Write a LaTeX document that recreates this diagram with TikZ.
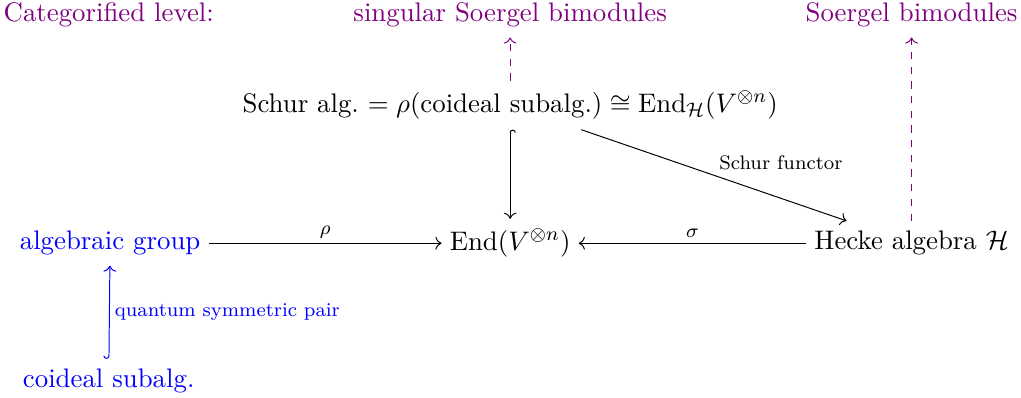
\documentclass[tikz,border=0pt,11pt]{standalone}
\usepackage{amsmath, amssymb}
\usepackage{tikz}
\usetikzlibrary{arrows.meta,positioning,calc}
\usepackage{xcolor}
\definecolor{catViolet}{rgb}{0.5,0,0.5}

\begin{document}
\begin{tikzpicture}[
            >={Computer Modern Rightarrow},
            every node/.style={font=\normalsize},
            obj/.style={inner xsep=3.2pt, inner ysep=4pt},
            classic/.style={obj, text=blue},
            categ/.style={obj, text=catViolet},
            arrow/.style={->, line width=0.4pt},
            hookarrow/.style={{Hooks[right]}->, line width=0.4pt},
            catarrow/.style={->, dashed, line width=0.4pt, draw=catViolet},
            lbl/.style={font=\scriptsize, inner sep=2pt}
        ]
        \useasboundingbox (0,0) rectangle (14.65,-5.71);

        %---------------- Categorified level ----------------%
        \node[categ] (catlevel) at (1.56,-0.215) {Categorified level:};
        \node[categ] (ssbim) at (7.32,-0.215) {singular Soergel bimodules};
        \node[categ] (sbim) at (13.08,-0.215) {Soergel bimodules};

        %---------------- Schur algebra ----------------%
        \node[obj] (schur) at (7.32,-1.51)
            {Schur alg.\ $=\rho(\text{coideal subalg.})\cong\operatorname{End}_{\mathcal{H}}(V^{\otimes n})$};

        %---------------- Middle row ----------------%
        \node[classic] (group) at (1.58,-3.49) {algebraic group};
        \node[obj] (endo) at (7.32,-3.49) {$\operatorname{End}(V^{\otimes n})$};
        \node[obj] (hecke) at (13.08,-3.49) {Hecke algebra $\mathcal{H}$};

        %---------------- Bottom ----------------%
        \node[classic] (coideal) at (1.56,-5.47) {coideal subalg.};

        %================ Arrows =================%
        \draw[arrow] (group) -- node[above, lbl] {$\rho$} (endo);
        \draw[arrow] (hecke) -- node[above, lbl] {$\sigma$} (endo);
        \draw[hookarrow] (schur) -- (endo);
        \draw[arrow] (schur) -- node[above right, pos=0.5, lbl] {Schur functor} (hecke);
        \draw[hookarrow, draw=blue] (coideal) -- node[right, lbl, text=blue] {quantum symmetric pair} (group);

        %================ Categorification =================%
        \draw[catarrow] (schur) -- (ssbim);
        \draw[catarrow] (hecke) -- (sbim);

        \end{tikzpicture}
\end{document}
